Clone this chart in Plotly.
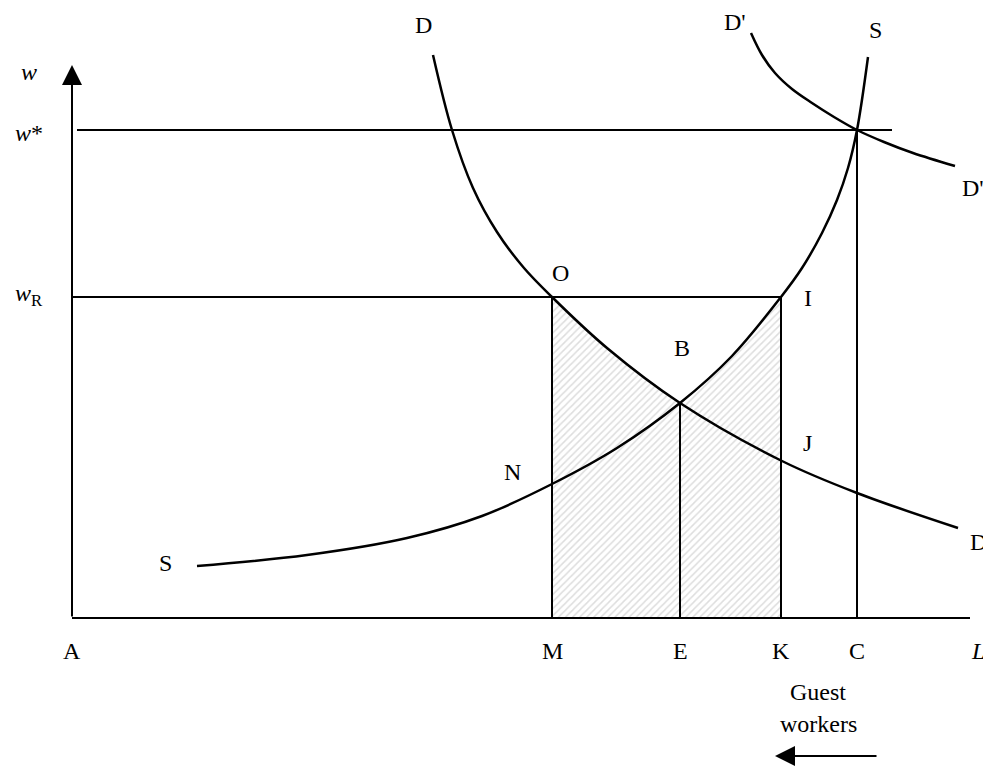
import plotly.graph_objects as go

# ---------- Data (A at the origin) ----------
# labour positions on the L axis
x_M, x_E, x_K, x_C = 480, 608, 709, 785
x_end = 898

# wage levels
w_star = 488
w_R = 321
w_top = 553

# demand curve D
d_x = [361, 380, 401, 425, 452, 480, 535, 608, 710, 785, 886]
d_y = [563, 488, 430, 386, 350, 321, 270, 215, 157, 125, 90]

# supply curve S
s_x = [125, 235, 335, 410, 480, 545, 608, 660, 709, 730, 750, 765, 776, 785, 796]
s_y = [52, 63, 80, 102, 134, 170, 215, 262, 321, 350, 385, 418, 450, 488, 561]

# shifted demand D'
dp_x = [679, 690, 703, 720, 740, 762, 785, 812, 841, 883]
dp_y = [585, 563, 545, 529, 515, 501, 488, 476, 465, 452]

# text labels
labels = ["D", "D'", "S", "D'", "O", "I", "B", "J", "N", "S", "D"]
label_x = [351, 663, 803, 901, 488, 736, 610, 735, 440, 93, 906]
label_y = [593, 596, 588, 430, 345, 320, 270, 175, 146, 55, 76]

tick_labels = ["A", "M", "E", "K", "C", "<i>L</i>"]
tick_x = [0, x_M, x_E, x_K, x_C, 906]

wage_labels = ["<i>w</i>", "<i>w</i>*", "<i>w</i><sub>R</sub>"]
wage_y = [546, 485, 323]

FONT = "Liberation Serif, Times New Roman, serif"
BLACK = "black"

fig = go.Figure()

# ---------- Hatched area under the curves between M and K ----------
hatch = dict(shape="/", fgcolor="#bcbcbc", bgcolor="white", size=5, solidity=0.3)
left = [i for i, x in enumerate(d_x) if x_M <= x <= x_E]
right = [i for i, x in enumerate(s_x) if x_E <= x <= x_K]
fig.add_trace(go.Scatter(
    x=[d_x[i] for i in left], y=[d_y[i] for i in left],
    mode="lines", line=dict(width=0, shape="spline"),
    fill="tozeroy", fillcolor="white", fillpattern=hatch,
))
fig.add_trace(go.Scatter(
    x=[s_x[i] for i in right], y=[s_y[i] for i in right],
    mode="lines", line=dict(width=0, shape="spline"),
    fill="tozeroy", fillcolor="white", fillpattern=hatch,
))

# ---------- Straight lines ----------
def seg(xs, ys, width=2):
    fig.add_trace(go.Scatter(x=xs, y=ys, mode="lines",
                             line=dict(color=BLACK, width=width)))

seg([0, x_end], [0, 0])                 # L axis
seg([5, 820], [w_star, w_star])         # w*
seg([0, x_K], [w_R, w_R])               # wR
for xv, top in [(x_M, w_R), (x_E, d_y[d_x.index(x_E)]), (x_K, w_R), (x_C, w_star)]:
    seg([xv, xv], [0, top])

# ---------- Curves ----------
for cx, cy in [(d_x, d_y), (s_x, s_y), (dp_x, dp_y)]:
    fig.add_trace(go.Scatter(x=cx, y=cy, mode="lines",
                             line=dict(color=BLACK, width=2.5, shape="spline")))

# ---------- Text ----------
ann = []
for t, x, y in zip(labels, label_x, label_y):
    ann.append(dict(x=x, y=y, text=t))
for t, x in zip(tick_labels, tick_x):
    ann.append(dict(x=x, y=-33, text=t))
for t, y in zip(wage_labels, wage_y):
    ann.append(dict(x=-43, y=y, text=t))
ann.append(dict(x=746, y=-74, text="Guest"))
ann.append(dict(x=746, y=-106, text="workers"))
for a in ann:
    a.update(showarrow=False, xanchor="center", yanchor="middle",
             font=dict(family=FONT, size=24, color=BLACK))

# axis arrow and guest-worker arrow
ann.append(dict(x=0, y=w_top, ax=0, ay=0, xref="x", yref="y", axref="x", ayref="y",
                text="", showarrow=True, arrowhead=2, arrowsize=2, arrowwidth=2,
                arrowcolor=BLACK))
ann.append(dict(x=703, y=-138, ax=806, ay=-138, xref="x", yref="y", axref="x", ayref="y",
                text="", showarrow=True, arrowhead=2, arrowsize=2, arrowwidth=2,
                arrowcolor=BLACK))

# the page body keeps its 8px margin, so the figure is 8px short on each side
fig.update_layout(
    width=983, height=761,
    margin=dict(l=0, r=0, t=0, b=0),
    paper_bgcolor="white", plot_bgcolor="white",
    showlegend=False,
    annotations=ann,
    xaxis=dict(range=[-64, 919], visible=False, fixedrange=True),
    yaxis=dict(range=[-151, 610], visible=False, fixedrange=True),
    hovermode=False,
)

fig.write_html("out.html")
